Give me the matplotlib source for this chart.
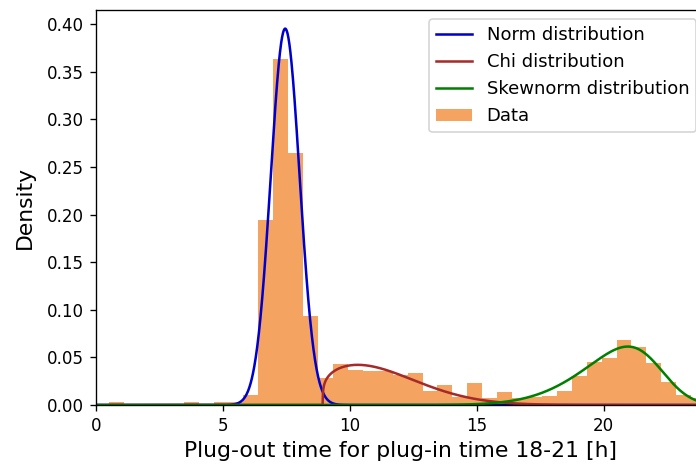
import math
import numpy as np
import matplotlib
matplotlib.use("Agg")
import matplotlib.pyplot as plt

# Histogram of plug-out times (density), 40 equal bins
bin_start = 0.53
bin_stop = 24.03
n_bins = 40
density = [
    0.0031, 0.0015, 0.0015, 0.0015, 0.0015, 0.0031, 0.0015, 0.0031, 0.0031, 0.0110,
    0.1940, 0.3640, 0.2650, 0.0935, 0.0280, 0.0435, 0.0370, 0.0355, 0.0355, 0.0320,
    0.0334, 0.0152, 0.0205, 0.0085, 0.0229, 0.0078, 0.0132, 0.0074, 0.0085, 0.0095,
    0.0152, 0.0310, 0.0457, 0.0490, 0.0687, 0.0607, 0.0440, 0.0240, 0.0110, 0.0076,
]

# Fitted mixture components: (weight, parameters)
norm_weight, norm_mean, norm_sigma = 0.565, 7.46, 0.57
chi_weight, chi_df, chi_loc, chi_scale = 0.173, 1.25, 8.94, 2.75
skew_weight, skew_alpha, skew_loc, skew_scale = 0.2385, -2.4, 22.18, 2.42


def norm_pdf(x, mu, sigma):
    return np.exp(-0.5 * ((x - mu) / sigma) ** 2) / (sigma * math.sqrt(2 * math.pi))


def chi_pdf(x, k, loc, scale):
    u = np.clip((x - loc) / scale, 0, None)
    c = 2 ** (k / 2 - 1) * math.gamma(k / 2)
    return np.where(x > loc, u ** (k - 1) * np.exp(-u ** 2 / 2) / c, 0.0) / scale


def skewnorm_pdf(x, a, loc, scale):
    z = (x - loc) / scale
    phi = np.exp(-0.5 * z ** 2) / math.sqrt(2 * math.pi)
    cdf = 0.5 * (1 + np.vectorize(math.erf)(a * z / math.sqrt(2)))
    return 2 * phi * cdf / scale


edges = np.linspace(bin_start, bin_stop, n_bins + 1)
xs = np.linspace(0, 24, 2000)

DPI = 121
fig = plt.figure(figsize=(696 / DPI, 468 / DPI), dpi=DPI)
ax = fig.add_axes([0.1375, 0.1346, 0.8759, 0.844])

bars = ax.bar(edges[:-1], density, width=np.diff(edges), align="edge",
              color="sandybrown", label="Data")
l1, = ax.plot(xs, norm_weight * norm_pdf(xs, norm_mean, norm_sigma),
              color="mediumblue", lw=1.5, label="Norm distribution")
l2, = ax.plot(xs, chi_weight * chi_pdf(xs, chi_df, chi_loc, chi_scale),
              color="brown", lw=1.5, label="Chi distribution")
l3, = ax.plot(xs, skew_weight * skewnorm_pdf(xs, skew_alpha, skew_loc, skew_scale),
              color="green", lw=1.5, label="Skewnorm distribution")

ax.set_xlim(0, 24)
ax.set_ylim(0, 0.415)
ax.set_xticks([0, 5, 10, 15, 20])
ax.set_yticks(np.arange(0, 0.41, 0.05))
ax.tick_params(labelsize=10)
ax.set_xlabel("Plug-out time for plug-in time 18-21 [h]", fontsize=13)
ax.set_ylabel("Density", fontsize=13, labelpad=7)
ax.legend(handles=[l1, l2, l3, bars], loc="upper right", fontsize=10.7)

fig.savefig("out.png", dpi=DPI)
